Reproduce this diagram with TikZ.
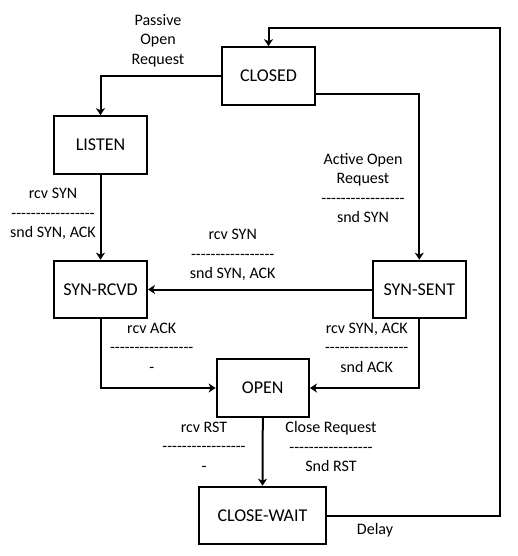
\documentclass[tikz,border=0pt]{standalone}
\usepackage{fontspec}
\setmainfont{Carlito}[Ligatures=TeXOff]
\usetikzlibrary{arrows.meta}
\newcommand\hy{-\kern0pt}
\newcommand\dashrow{\hy\hy\hy\hy\hy\hy\hy\hy\hy\hy\hy\hy\hy\hy\hy\hy\hy}
\tikzset{
  state/.style={draw=black, line width=2pt, fill=white, minimum height=57.6pt,
    inner sep=0pt, font=\fontsize{18}{21}\selectfont},
  conn/.style={draw=black, line width=2pt, -{Stealth[length=7pt,width=9pt,inset=2pt]}},
  lbl/.style={align=center, inner sep=0pt, font=\fontsize{16}{19.5}\selectfont}
}
\begin{document}
\begin{tikzpicture}[x=1pt,y=-1pt]
\useasboundingbox (0,0) rectangle (518,556);
\node[state, minimum width=93pt] (closed) at (268.5,76) {CLOSED};
\node[state, minimum width=93pt] (listen) at (100.5,145) {LISTEN};
\node[state, minimum width=93pt] (synrcvd) at (100.5,289.5) {SYN-RCVD};
\node[state, minimum width=93.3pt] (synsent) at (419.3,289.5) {SYN-SENT};
\node[state, minimum width=92.3pt] (open) at (262.8,388) {OPEN};
\node[state, minimum width=127pt] (closewait) at (262.5,515.5) {CLOSE-WAIT};
\coordinate (ret) at (500,27.7);

\draw[conn] (closed.west) -| (listen.north);
\draw[conn] ([yshift=-18pt]closed.east) -| (synsent.north);
\draw[conn] (closewait.east) -| (ret) -| (closed.north);
\draw[conn] (listen.south) -- (synrcvd.north);
\draw[conn] (synsent.west) -- (synrcvd.east);
\draw[conn] (synrcvd.south) |- (open.west);
\draw[conn] (synsent.south) |- (open.east);
\draw[conn] (open.south) -- (closewait.north);

\node[lbl] (l1) at (158,40.7) {Passive\\Open\\Request};
\node[lbl] (l2) at (363,188) {Active Open\\Request\\\dashrow\\snd SYN};
\node[lbl] (l3) at (53,214) {rcv SYN\\\dashrow\\snd SYN, ACK};
\node[lbl] (l4) at (232.7,255) {rcv SYN\\\dashrow\\snd SYN, ACK};
\node[lbl] (l5) at (151.7,347.5) {rcv ACK\\\dashrow\\-};
\node[lbl] (l6) at (366.7,347.5) {rcv SYN, ACK\\\dashrow\\snd ACK};
\node[lbl] (l7) at (204,446.5) {rcv RST\\\dashrow\\-};
\node[lbl] (l8) at (331,446.5) {Close Request\\\dashrow\\Snd RST};
\node[lbl] (l9) at (375,530) {Delay};
\end{tikzpicture}
\end{document}
